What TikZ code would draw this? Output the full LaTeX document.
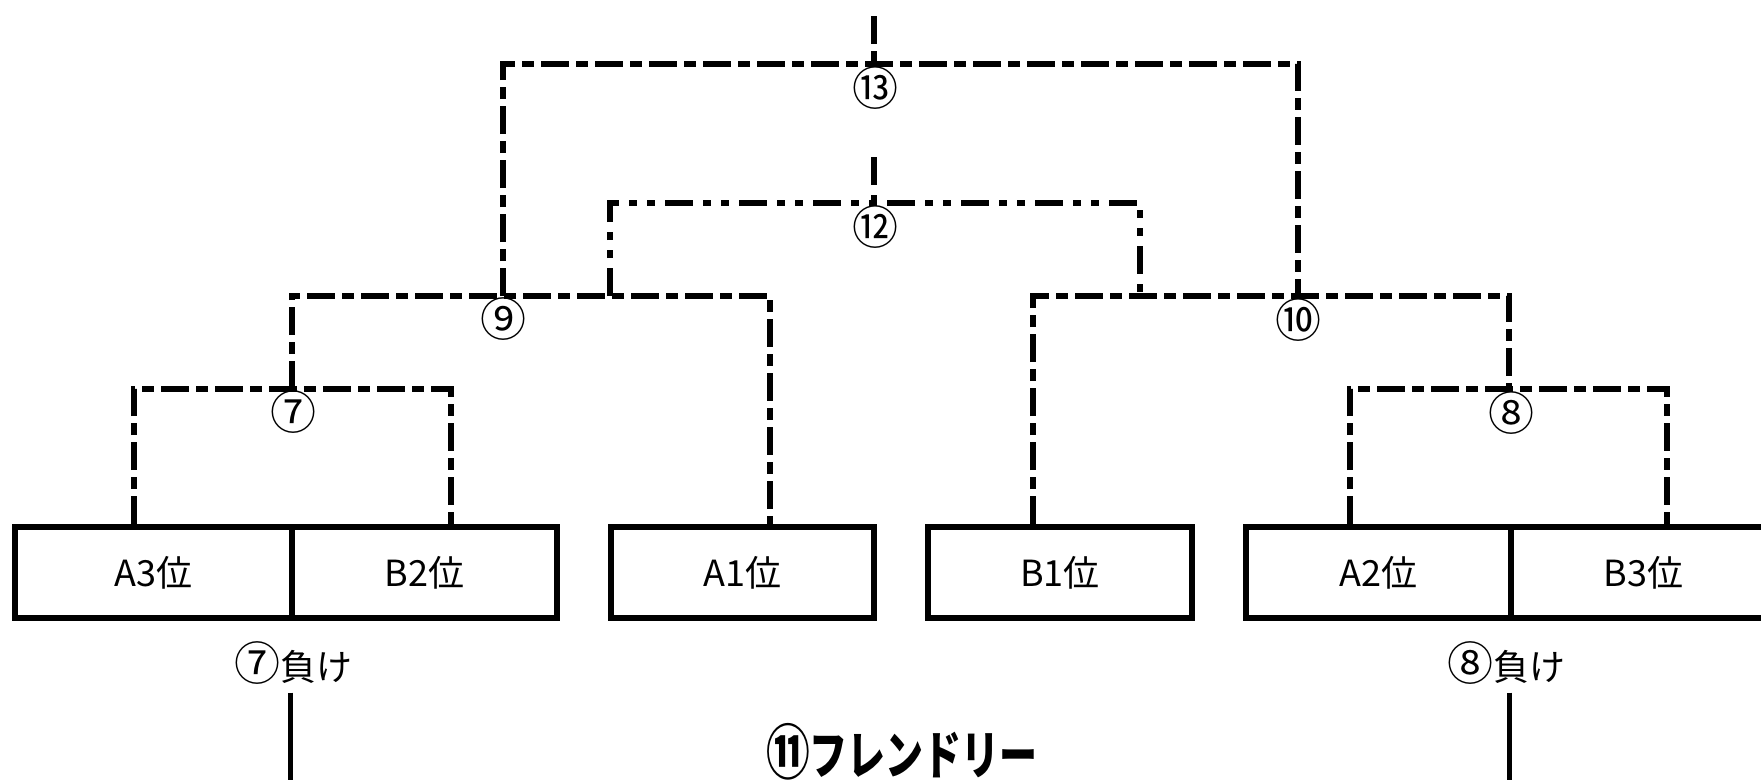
\documentclass[tikz,border=0pt]{standalone}
\usepackage{fontspec}
\setmainfont{Noto Sans CJK JP}
\usetikzlibrary{positioning}

% circled match numbers are set a size up, as tall as the kanji
\newcommand\maru[1]{{\fontsize{46}{46}\selectfont #1}}

\tikzset{
  slot/.style={draw, line width=6pt, minimum height=91pt, inner sep=0pt,
    font=\fontsize{36}{40}\selectfont},
  game/.style={line width=5.5pt, dash pattern=on 28pt off 7pt on 12pt off 7pt},
  semi/.style={line width=6pt, dash pattern=on 28pt off 10pt on 8pt off 10pt on 8pt off 10pt},
  feed/.style={line width=5pt},
  lbl/.style={inner sep=0pt, font=\fontsize{36}{40}\selectfont}
}

\begin{document}
\begin{tikzpicture}[x=1pt,y=-1pt]  % one unit is one pixel, y runs down
    \useasboundingbox (0,0) rectangle (1761,779);

    % Seeded slots along the bottom row
    \node[slot, minimum width=277pt] (a3) at (153.5,572.5) {A3位};
    \node[slot, minimum width=265pt] (b2) at (424.5,572.5) {B2位};
    \node[slot, minimum width=263pt] (a1) at (742.5,572.5) {A1位};
    \node[slot, minimum width=264pt] (b1) at (1060,572.5) {B1位};
    \node[slot, minimum width=265pt] (a2) at (1378.5,572.5) {A2位};
    \node[slot, minimum width=265pt] (b3) at (1643.5,572.5) {B3位};

    % Corners and junctions of the brackets
    \coordinate (c7l) at (134,389);   \coordinate (c7r) at (451,389);
    \coordinate (c8l) at (1350,389);  \coordinate (c8r) at (1667,389);
    \coordinate (j7) at (292,389);    \coordinate (j8) at (1509,389);
    \coordinate (c9r) at (770,296);   \coordinate (c10l) at (1033,296);
    \coordinate (c10r) at (1509,296);
    \coordinate (j9a) at (503,296);   \coordinate (j10a) at (1298,296);
    \coordinate (j9b) at (610,296);   \coordinate (j10b) at (1140,296);
    \coordinate (c12r) at (1140,203); \coordinate (c13r) at (1298,64);
    \coordinate (s12) at (874,157);   \coordinate (s13) at (874,16);

    % First round
    \draw[game] (a3.north -| c7l) |- (c7r) -- (b2.north -| c7r);
    \draw[game] (a2.north -| c8l) |- (c8r) -- (b3.north -| c8r);

    % Second round
    \draw[game] (j7) |- (c9r) -- (a1.north -| c9r);
    \draw[game] (b1.north -| c10l) |- (c10r) -- (j8);

    % Semi final and final
    \draw[semi] (j9b) |- (c12r) -- (j10b);
    \draw[semi] (s12) -- (s12 |- c12r);
    \draw[game] (j9a) |- (c13r) -- (j10a);
    \draw[game] (s13) -- (s13 |- c13r);

    % Match numbers
    \node[lbl] (n13) at (875,88) {\maru{⑬}};
    \node[lbl] (n12) at (875,227) {\maru{⑫}};
    \node[lbl] (n9) at (503,319) {\maru{⑨}};
    \node[lbl] (n10) at (1298,320) {\maru{⑩}};
    \node[lbl] (n7) at (293,412) {\maru{⑦}};
    \node[lbl] (n8) at (1511,413) {\maru{⑧}};

    % Losers and the friendly match
    \node[lbl] (l7) at (293,663) {\maru{⑦}負け};
    \node[lbl] (l8) at (1506,663) {\maru{⑧}負け};
    \coordinate (e7) at (290,800);
    \coordinate (e8) at (1509,800);
    \draw[feed, shorten <=8pt] (e7 |- l7.south) -- (e7);
    \draw[feed, shorten <=8pt] (e8 |- l8.south) -- (e8);
    \node[inner sep=0pt, font=\bfseries\fontsize{40}{44}\selectfont] (fr) at (902,752)
        {\scalebox{0.95}[1.3]{\maru{⑪}フレンドリー}};
\end{tikzpicture}
\end{document}
